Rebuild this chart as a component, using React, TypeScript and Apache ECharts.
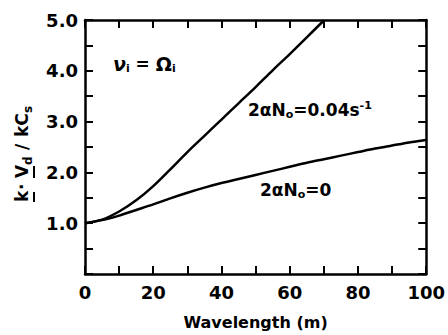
import React, { useEffect, useRef } from 'react';
import * as echarts from 'echarts';

// Data
const xUpper = [0, 5, 10, 15, 20, 25, 30, 35, 40, 45, 50, 55, 60, 65, 70];
const yUpper = [1.0, 1.07, 1.23, 1.45, 1.73, 2.06, 2.4, 2.72, 3.04, 3.36, 3.68, 4.01, 4.33, 4.66, 4.99];
const xLower = [0, 5, 10, 15, 20, 25, 30, 35, 40, 45, 50, 55, 60, 65, 70, 75, 80, 85, 90, 95, 100];
const yLower = [1.0, 1.06, 1.15, 1.26, 1.37, 1.49, 1.6, 1.7, 1.79, 1.87, 1.95, 2.03, 2.11, 2.19, 2.26, 2.33, 2.4, 2.47, 2.53, 2.59, 2.64];
const xLabelStep = 20;
const yLabelMin = 1;

const FONT = 'DejaVu Sans';

export default function App() {
  const ref = useRef<HTMLDivElement>(null);
  useEffect(() => {
    if (!ref.current) return;
    const chart = echarts.init(ref.current, undefined, { renderer: 'svg' });
    const axisLine = { onZero: false, lineStyle: { color: '#000', width: 2.5 } };
    const axisTick = { inside: true, length: 8, lineStyle: { color: '#000', width: 2 } };
    const labelStyle = { color: '#000', fontSize: 18, fontWeight: 'bold' as const, fontFamily: FONT };
    const rich = {
      sub: { fontSize: 11, fontWeight: 'bold', fontFamily: FONT, padding: [9, 0, 0, 0] },
      sup: { fontSize: 11, fontWeight: 'bold', fontFamily: FONT, padding: [0, 0, 10, 0] },
      it: { fontSize: 19, fontWeight: 'bold', fontStyle: 'italic', fontFamily: FONT },
      big: { fontSize: 19, fontWeight: 'bold', fontFamily: FONT },
    };
    const rtxt = (s: string, x: number, y: number, size = 17) => ({
      type: 'text',
      x,
      y,
      style: {
        text: s,
        font: `bold ${size}px "${FONT}"`,
        fill: '#000',
        align: 'left',
        verticalAlign: 'middle',
        rich,
      },
    });
    const option: any = {
      animation: false,
      grid: { left: 85, right: 19, top: 20, bottom: 56.5 },
      xAxis: [
        {
          type: 'value',
          min: 0,
          max: 100,
          interval: 10,
          axisLine,
          axisTick,
          splitLine: { show: false },
          axisLabel: {
            ...labelStyle,
            margin: 9,
            formatter: (v: number) => (v % xLabelStep === 0 ? String(v) : ''),
          },
          name: 'Wavelength (m)',
          nameLocation: 'middle',
          nameGap: 40,
          nameTextStyle: { color: '#000', fontSize: 16, fontWeight: 'bold', fontFamily: FONT },
        },
        {
          type: 'value',
          position: 'top',
          min: 0,
          max: 100,
          interval: 10,
          axisLine,
          axisTick,
          splitLine: { show: false },
          axisLabel: { show: false },
        },
      ],
      yAxis: [
        {
          type: 'value',
          min: 0,
          max: 5,
          interval: 0.5,
          axisLine,
          axisTick,
          splitLine: { show: false },
          axisLabel: {
            ...labelStyle,
            margin: 7,
            formatter: (v: number) => (v >= yLabelMin && Number.isInteger(v) ? v.toFixed(1) : ''),
          },
        },
        {
          type: 'value',
          position: 'right',
          min: 0,
          max: 5,
          interval: 0.5,
          axisLine,
          axisTick,
          splitLine: { show: false },
          axisLabel: { show: false },
        },
      ],
      series: [
        {
          type: 'line',
          data: xUpper.map((x, i) => [x, yUpper[i]]),
          smooth: 0.3,
          showSymbol: false,
          lineStyle: { color: '#000', width: 2.5 },
        },
        {
          type: 'line',
          data: xLower.map((x, i) => [x, yLower[i]]),
          smooth: 0.3,
          showSymbol: false,
          lineStyle: { color: '#000', width: 2.5 },
        },
      ],
      graphic: [
        rtxt('{it|ν}{sub|i} = {big|Ω}{sub|i}', 113, 64),
        rtxt('2αN{sub|o}=0.04s{sup|-1}', 248, 110),
        rtxt('2αN{sub|o}=0', 260, 190),
        // y axis title, rotated
        {
          type: 'group',
          x: 28,
          y: 202,
          rotation: Math.PI / 2,
          children: [
            rtxt('k', 0, -6),
            rtxt('·', 12, -6),
            rtxt('V', 24, -6),
            rtxt('d', 37, 0, 12),
            rtxt('/', 52, -6),
            rtxt('kC', 65, -6),
            rtxt('s', 89, 0, 12),
            { type: 'line', shape: { x1: 0, y1: 6, x2: 10, y2: 6 }, style: { stroke: '#000', lineWidth: 2 } },
            { type: 'line', shape: { x1: 24, y1: 6, x2: 36, y2: 6 }, style: { stroke: '#000', lineWidth: 2 } },
          ],
        },
      ],
    };
    chart.setOption(option);
    return () => chart.dispose();
  }, []);
  return <div ref={ref} style={{ position: 'absolute', left: 0, top: 0, width: 448, height: 335 }} />;
}
